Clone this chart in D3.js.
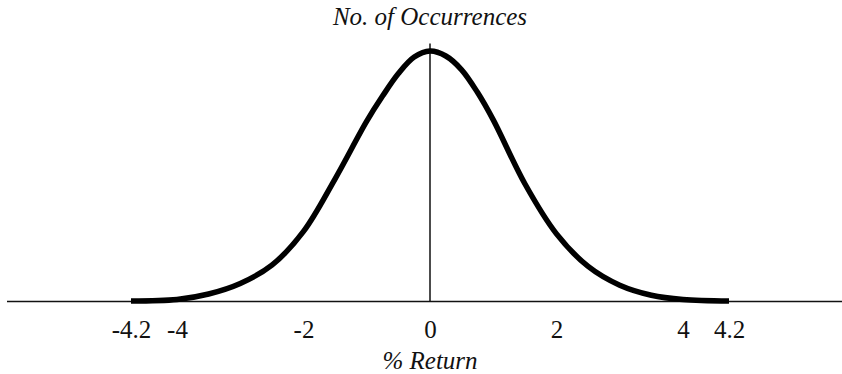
<!DOCTYPE html>
<html>
<head>
<meta charset="utf-8">
<script src="https://cdn.jsdelivr.net/npm/d3@7"></script>
<style>
  body { margin: 0; background: #fff; }
  svg { display: block; }
</style>
</head>
<body>
<svg id="chart"></svg>
<script>
// % return values along the curve, and height of the curve (peak = 100)
var returns = [-4.2, -4, -3.5, -3, -2.5, -2, -1.5, -1, -0.75, -0.5, -0.25, 0,
  0.25, 0.5, 0.75, 1, 1.5, 2, 2.5, 3, 3.5, 4, 4.2];
var occurrences = [0.2, 0.8, 3, 7.2, 14.5, 28, 49, 72, 82, 91, 97.6, 100,
  98, 92.5, 83.5, 72.5, 47, 27, 14, 6.5, 2.5, 0.8, 0.2];

var tickValues = [-4.2, -4, -2, 0, 2, 4, 4.2];
var tickLabels = ["-4.2", "-4", "-2", "0", "2", "4", "4.2"];

var WIDTH = 842,
    HEIGHT = 374;
var SERIF = "'Liberation Serif'";

var svg = d3.select("#chart")
    .attr("width", WIDTH)
    .attr("height", HEIGHT);

// the tails are drawn wider than the middle, as in the original figure
var x = d3.scaleLinear()
    .domain([-4.2, -4, 4, 4.2])
    .range([131, 177, 683, 729]);

var y = d3.scaleLinear()
    .domain([0, 100])
    .range([301.5, 51]);

// horizontal baseline
svg.append("line")
    .attr("x1", 7)
    .attr("x2", WIDTH)
    .attr("y1", y(0))
    .attr("y2", y(0))
    .attr("stroke", "#111")
    .attr("stroke-width", 1.6);

// vertical axis at zero
svg.append("line")
    .attr("x1", x(0))
    .attr("x2", x(0))
    .attr("y1", y(0))
    .attr("y2", y(103))
    .attr("stroke", "#111")
    .attr("stroke-width", 1.5);

// tick labels
var axis = svg.append("g")
    .attr("transform", "translate(0," + y(0) + ")")
    .call(d3.axisBottom(x)
      .tickValues(tickValues)
      .tickSize(0)
      .tickPadding(19)
      .tickFormat(function(d, i) { return tickLabels[i]; }));

axis.select(".domain").remove();
axis.selectAll("text")
    .style("font-family", SERIF)
    .style("font-size", "25px")
    .style("fill", "#111");

// bell curve
var line = d3.line()
    .x(function(d, i) { return x(returns[i]); })
    .y(function(d) { return y(d); })
    .curve(d3.curveCatmullRom.alpha(0.5));

svg.append("path")
    .datum(occurrences)
    .attr("d", line)
    .attr("fill", "none")
    .attr("stroke", "#000")
    .attr("stroke-width", 5.5);

// titles
svg.append("text")
    .attr("x", x(0))
    .attr("y", 25)
    .attr("text-anchor", "middle")
    .style("font-family", SERIF)
    .style("font-style", "italic")
    .style("font-size", "25px")
    .style("fill", "#111")
    .text("No. of Occurrences");

svg.append("text")
    .attr("x", x(0))
    .attr("y", 369)
    .attr("text-anchor", "middle")
    .style("font-family", SERIF)
    .style("font-style", "italic")
    .style("font-size", "25px")
    .style("fill", "#111")
    .text("% Return");
</script>
</body>
</html>
